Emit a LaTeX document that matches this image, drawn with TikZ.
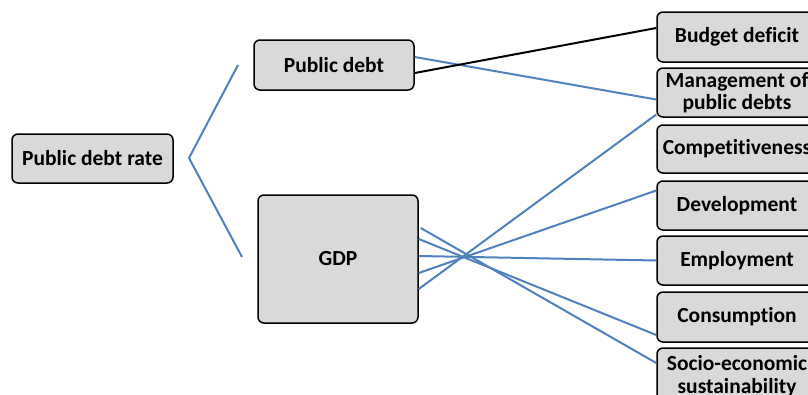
\documentclass[tikz,border=0pt]{standalone}
\usepackage{fontspec}
\setmainfont[Ligatures=NoCommon]{Carlito}
\usetikzlibrary{calc}
\definecolor{boxfill}{HTML}{D9D9D9}
\definecolor{linkblue}{HTML}{4F81BD}
\tikzset{
  box/.style={draw=black, line width=1.5pt, fill=boxfill, rounded corners=6pt,
    inner sep=0pt, align=center, font=\fontsize{21.5}{22.5}\selectfont\bfseries},
  link/.style={draw=linkblue, line width=2pt},
  blacklink/.style={draw=black, line width=2pt},
}
\begin{document}
\begin{tikzpicture}[x=1pt,y=-1pt]
\useasboundingbox (0,0) rectangle (808,394);
\begin{scope}
\clip (0,0) rectangle (808,394);
\node[box, minimum width=161pt, minimum height=49pt] (pdr) at (92.5,158.5) {Public debt rate};
\node[box, minimum width=160pt, minimum height=50pt] (pd) at (334,65) {Public debt};
\node[box, minimum width=160pt, minimum height=128pt] (gdp) at (338,259) {GDP};
\node[box, minimum width=160pt, minimum height=50pt] (bd) at (737,37) {Budget deficit};
\node[box, minimum width=160pt, minimum height=49pt] (mg) at (737,92.5) {Management of\\public debts};
\node[box, minimum width=160pt, minimum height=48pt] (cp) at (737,149) {Competitiveness};
\node[box, minimum width=160pt, minimum height=49pt] (dv) at (737,205.5) {Development};
\node[box, minimum width=160pt, minimum height=49pt] (em) at (737,260.5) {Employment};
\node[box, minimum width=160pt, minimum height=50pt] (cs) at (737,317) {Consumption};
\node[box, minimum width=160pt, minimum height=56pt] (se) at (737,376) {Socio-economic\\sustainability};
\end{scope}
\coordinate (bt) at (238,65);
\coordinate (bv) at (189,158);
\coordinate (bb) at (242,257);
\draw[link] (bt) -- (bv) -- (bb);
\draw[link] ($(pd.east)+(0,-8)$) -- ($(mg.west)+(0,7)$);
\draw[blacklink] ($(pd.east)+(0,8)$) -- ($(bd.west)+(0,-9)$);
\draw[link] ($(gdp.east)+(2,-31)$) -- ($(se.west)+(0,-13)$);
\draw[link] ($(gdp.east)+(0,-20)$) -- ($(cs.west)+(0,18)$);
\draw[link] ($(gdp.east)+(0,-3)$) -- ($(em.west)+(0,0)$);
\draw[link] ($(gdp.east)+(0,14)$) -- ($(dv.west)+(0,-15)$);
\draw[link] ($(gdp.east)+(0,30)$) -- ($(mg.west)+(0,22)$);
\end{tikzpicture}
\end{document}
